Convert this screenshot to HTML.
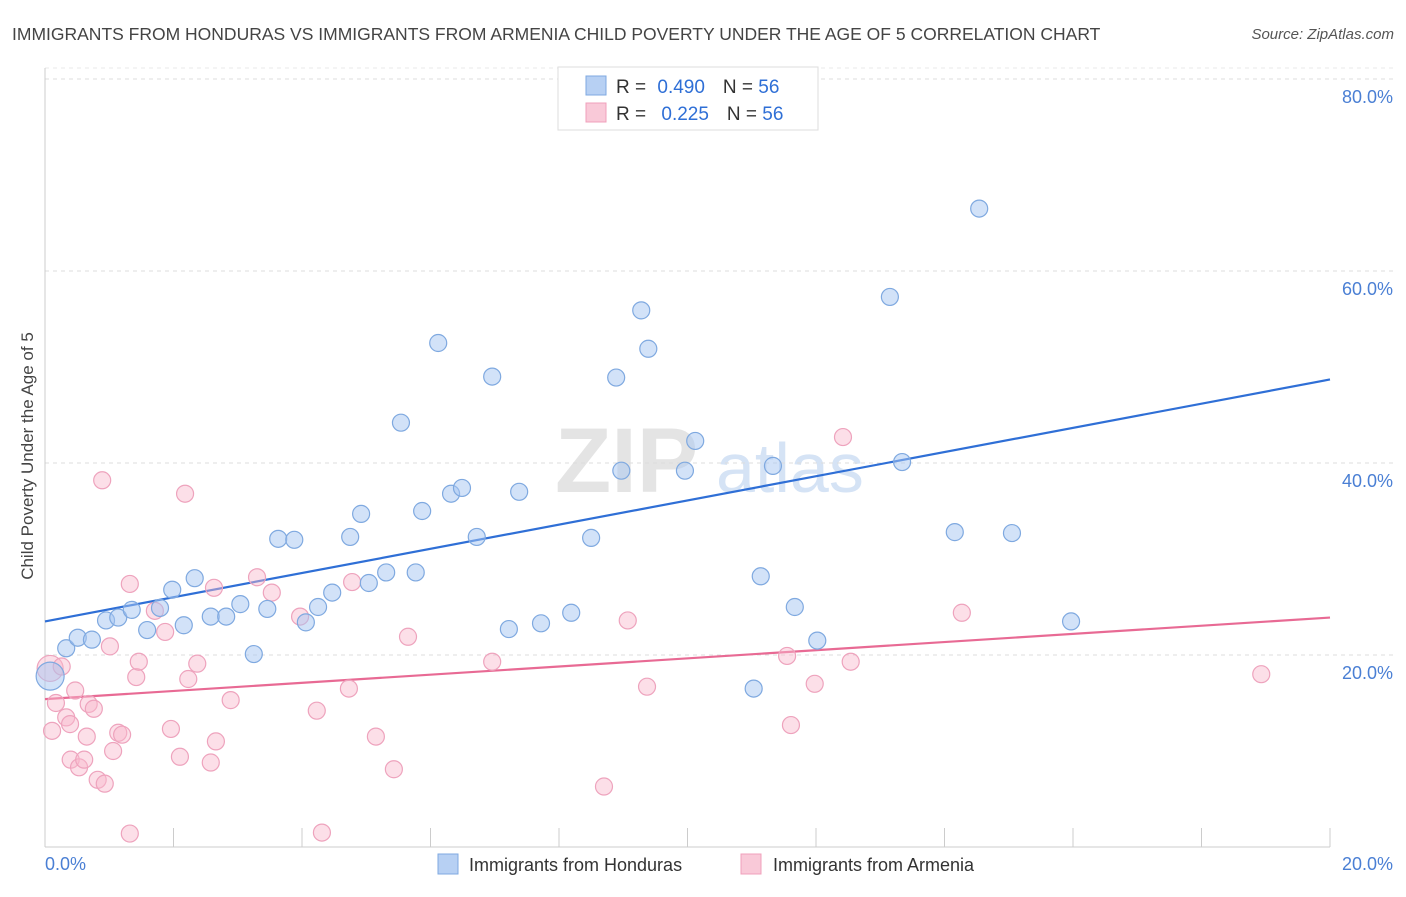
<!DOCTYPE html>
<html><head><meta charset="utf-8">
<style>
body{margin:0;background:#fff;font-family:"Liberation Sans",sans-serif;}
svg text{font-family:"Liberation Sans",sans-serif;}
</style></head>
<body>
<svg id="chart" width="1406" height="892" viewBox="0 0 1406 892" xmlns="http://www.w3.org/2000/svg">
<text x="12" y="40" font-size="17.5" fill="#444">IMMIGRANTS FROM HONDURAS VS IMMIGRANTS FROM ARMENIA CHILD POVERTY UNDER THE AGE OF 5 CORRELATION CHART</text>
<text x="1394" y="39" font-size="15" fill="#555" font-style="italic" text-anchor="end">Source: ZipAtlas.com</text>
<g>
<text x="555" y="492" font-size="92" fill="#e4e4e4" font-family="Liberation Serif" font-weight="bold">ZIP</text>
<text x="716" y="492" font-size="70" fill="#d5e3f5">atlas</text>
</g>
<g id="grid"></g>
<g id="axes"></g>
<g id="lines"></g>
<g id="points"></g>
<text transform="translate(33,456) rotate(-90)" font-size="17" fill="#444" text-anchor="middle">Child Poverty Under the Age of 5</text>
<g>
<rect x="558" y="67" width="260" height="63" fill="#fff" stroke="#ddd"/>
<rect x="586" y="76" width="20" height="19" fill="#b7d0f3" stroke="#7fa9e0"/>
<text x="616" y="93" font-size="19" fill="#333">R = <tspan fill="#2f6fd6" dx="6">0.490</tspan><tspan dx="18" fill="#333">N = </tspan><tspan fill="#2f6fd6">56</tspan></text>
<rect x="586" y="103" width="20" height="19" fill="#f9c9d8" stroke="#f0a0bb"/>
<text x="616" y="120" font-size="19" fill="#333">R = <tspan fill="#2f6fd6" dx="10">0.225</tspan><tspan dx="18" fill="#333">N = </tspan><tspan fill="#2f6fd6">56</tspan></text>
</g>
<g>
<rect x="438" y="854" width="20" height="20" fill="#b7d0f3" stroke="#7fa9e0"/>
<text x="469" y="871" font-size="18" fill="#333">Immigrants from Honduras</text>
<rect x="741" y="854" width="20" height="20" fill="#f9c9d8" stroke="#f0a0bb"/>
<text x="773" y="871" font-size="18" fill="#333">Immigrants from Armenia</text>
</g>
</svg>
<script>
const xTicks=[0,2,4,6,8,10,12,14,16,18,20];
const yTicks=[20,40,60,80];
const yTickLabels=["20.0%","40.0%","60.0%","80.0%"];
const hondurasX=[0.08,0.33,0.51,0.73,0.95,1.14,1.35,1.59,1.79,1.98,2.16,2.33,2.58,2.82,3.04,3.25,3.46,3.63,3.88,4.06,4.25,4.47,4.75,4.92,5.04,5.31,5.54,5.77,5.87,6.12,6.32,6.49,6.72,6.96,7.22,7.38,7.72,8.19,8.50,8.89,8.97,9.28,9.39,9.96,10.12,11.03,11.14,11.33,11.67,12.02,13.15,13.34,14.16,14.54,15.05,15.97];
const hondurasY=[17.8,20.7,21.8,21.6,23.6,23.9,24.7,22.6,24.9,26.8,23.1,28.0,24.0,24.0,25.3,20.1,24.8,32.1,32.0,23.4,25.0,26.5,32.3,34.7,27.5,28.6,44.2,28.6,35.0,52.5,36.8,37.4,32.3,49.0,22.7,37.0,23.3,24.4,32.2,48.9,39.2,55.9,51.9,39.2,42.3,16.5,28.2,39.7,25.0,21.5,57.3,40.1,32.8,66.5,32.7,23.5];
const armeniaX=[0.08,0.11,0.17,0.26,0.33,0.39,0.47,0.40,0.53,0.61,0.65,0.68,0.76,0.82,0.89,0.93,1.01,1.06,1.14,1.20,1.32,1.32,1.42,1.46,1.71,1.87,1.96,2.10,2.18,2.23,2.37,2.58,2.63,2.66,2.89,3.30,3.53,3.97,4.23,4.31,4.73,4.78,5.15,5.43,5.65,6.96,8.70,9.07,9.37,11.55,11.61,11.98,12.42,12.54,14.27,18.93];
const armeniaY=[18.6,12.1,15.0,18.8,13.5,12.8,16.3,9.1,8.3,9.1,11.5,14.9,14.4,7.0,38.2,6.6,20.9,10.0,11.9,11.7,27.4,1.4,17.7,19.3,24.6,22.4,12.3,9.4,36.8,17.5,19.1,8.8,27.0,11.0,15.3,28.1,26.5,24.0,14.2,1.5,16.5,27.6,11.5,8.1,21.9,19.3,6.3,23.6,16.7,19.9,12.7,17.0,42.7,19.3,24.4,18.0];
const hondurasTrend=[23.5,48.7];
const armeniaTrend=[15.4,23.9];

const NS="http://www.w3.org/2000/svg";
const X=v=>45+v/20*1285;
const Y=v=>847-v/20*192;
function mk(tag,attrs,parent){const e=document.createElementNS(NS,tag);for(const k in attrs)e.setAttribute(k,attrs[k]);document.getElementById(parent).appendChild(e);return e;}

yTicks.forEach((t,i)=>{
 const g=mk('line',{x1:45,x2:1393,y1:Y(t),y2:Y(t),stroke:'#ddd','stroke-dasharray':'4,4'},'grid');
 
 
 const l=mk('text',{x:1393,y:Y(t)+24,'font-size':18,fill:'#4a7fd4','text-anchor':'end'},'axes');
 l.textContent=yTickLabels[i];
 
 
});
mk('line',{x1:45,x2:1393,y1:Y(80)-11,y2:Y(80)-11,stroke:'#e8e8e8','stroke-dasharray':'4,4'},'grid');
const ya=mk('line',{x1:45,x2:45,y1:68,y2:847,stroke:'#ccc'},'axes');


const xa=mk('line',{x1:45,x2:1330,y1:847,y2:847,stroke:'#ccc'},'axes');


xTicks.forEach(t=>{
 const tk=mk('line',{x1:X(t),x2:X(t),y1:828,y2:847,stroke:'#ccc'},'axes');
 
 
});
const xl0=mk('text',{x:45,y:870,'font-size':18,fill:'#4a7fd4'},'axes');
xl0.textContent=xTicks[0].toFixed(1)+'%';


const xl1=mk('text',{x:1393,y:870,'font-size':18,fill:'#4a7fd4','text-anchor':'end'},'axes');
xl1.textContent=xTicks[xTicks.length-1].toFixed(1)+'%';



function series(xs,ys,fill,stroke,name){
 xs.forEach((x,i)=>{
  const r=(i===0)?(name==='honduras'?14:13):8.5;
  const c=mk('circle',{cx:X(x),cy:Y(ys[i]),r:r,fill:fill,stroke:stroke,'stroke-width':1.2},'points');
  
  
 });
}
series(armeniaX,armeniaY,'rgba(248,185,205,0.45)','#eea3bd','armenia');
series(hondurasX,hondurasY,'rgba(165,198,242,0.5)','#7fa9e0','honduras');
const bl=mk('line',{x1:X(0),x2:X(20),y1:Y(hondurasTrend[0]),y2:Y(hondurasTrend[1]),stroke:'#2f6fd6','stroke-width':2.2},'lines');


const pl=mk('line',{x1:X(0),x2:X(20),y1:Y(armeniaTrend[0]),y2:Y(armeniaTrend[1]),stroke:'#e86a94','stroke-width':2.2},'lines');


</script>
</body></html>
